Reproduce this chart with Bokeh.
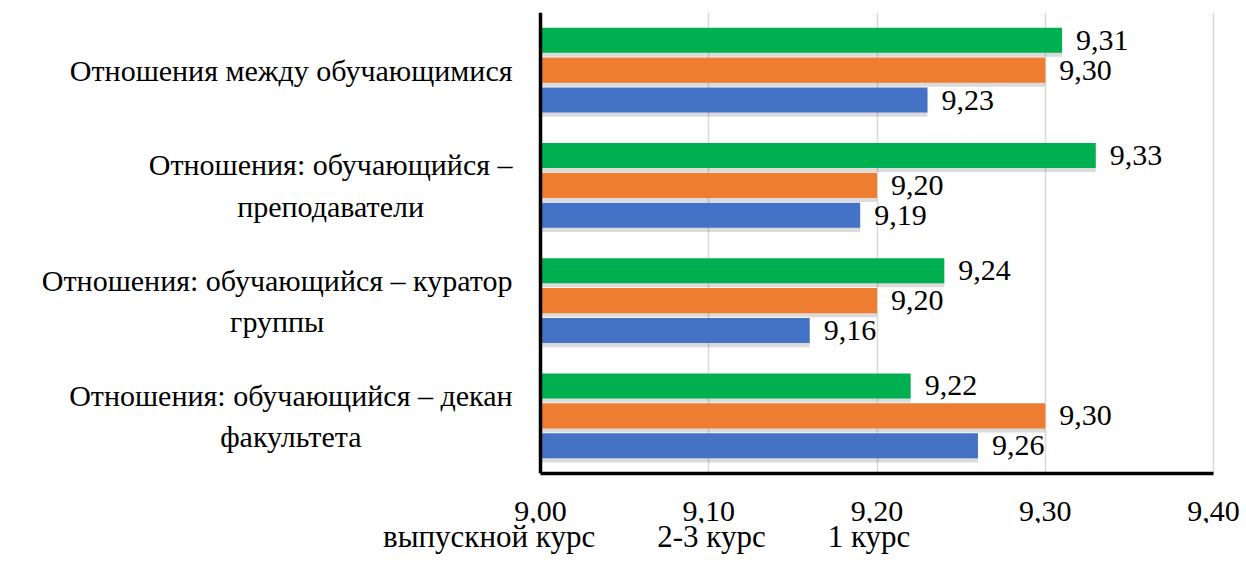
from bokeh.plotting import figure
from bokeh.layouts import column
from bokeh.models import (Range1d, FactorRange, ColumnDataSource, FixedTicker,
                          CustomJSTickFormatter, Span, Legend, LegendItem)
from bokeh.transform import dodge
from bokeh.core.properties import value
from bokeh.embed import file_html
from bokeh.resources import INLINE

# ---- data ----
categories = [
    "Отношения между обучающимися",
    "Отношения: обучающийся –\nпреподаватели",
    "Отношения: обучающийся – куратор\nгруппы",
    "Отношения: обучающийся – декан\nфакультета",
]
series_names = ["выпускной курс", "2-3 курс", "1 курс"]
vypusknoy_kurs = [9.31, 9.33, 9.24, 9.22]
kurs_2_3 = [9.30, 9.20, 9.20, 9.30]
kurs_1 = [9.23, 9.19, 9.16, 9.26]
x_ticks = [9.00, 9.10, 9.20, 9.30, 9.40]
x_start = 9.00

# ---- styles ----
colors = ["#00b050", "#ef7d31", "#4472c4"]
offsets = [0.26, 0.0, -0.26]
bar_h = 0.217
FONT = "'Liberation Serif', 'Times New Roman', serif"
FS = "30px"

def fmt(v):
    return f"{v:.2f}".replace(".", ",")

series = [vypusknoy_kurs, kurs_2_3, kurs_1]
fields = ["s0", "s1", "s2"]
data = {"cat": categories}
for f, vals in zip(fields, series):
    data[f] = vals
    data[f + "_lbl"] = [fmt(v) for v in vals]
src = ColumnDataSource(data)

p = figure(width=1246, height=534, frame_width=1246, frame_height=461,
           x_range=Range1d(8.67905, 9.41961),
           y_range=FactorRange(factors=list(reversed(categories)), range_padding=0),
           output_backend="svg", toolbar_location=None, y_axis_location=None,
           min_border_left=0, min_border_right=0, min_border_top=12,
           min_border_bottom=0)
p.outline_line_color = None
p.background_fill_color = "white"

# grid
p.ygrid.visible = False
p.xgrid.ticker = FixedTicker(ticks=x_ticks[1:])
p.xgrid.grid_line_color = "#d9d9d9"
p.xgrid.grid_line_width = 1.5

# x axis
p.xaxis.ticker = FixedTicker(ticks=x_ticks)
p.xaxis.formatter = CustomJSTickFormatter(code="return tick.toFixed(2).replace('.', ',')")
p.xaxis.bounds = (x_ticks[0], x_ticks[-1])
p.xaxis.axis_line_color = "black"
p.xaxis.axis_line_width = 3.5
p.xaxis.major_tick_line_color = None
p.xaxis.minor_tick_line_color = None
p.xaxis.major_tick_out = 0
p.xaxis.major_tick_in = 0
p.xaxis.major_label_standoff = 28
p.xaxis.major_label_text_font = FONT
p.xaxis.major_label_text_font_size = FS
p.xaxis.major_label_text_color = "black"

# left axis line
p.add_layout(Span(location=x_start, dimension="height", line_color="black", line_width=3.5))

for k, f in enumerate(fields):
    # soft shadow
    p.hbar(y=dodge("cat", offsets[k] - 0.035, range=p.y_range), left=x_start, right=f,
           height=bar_h, source=src, fill_color="black", fill_alpha=0.14, line_color=None)
    p.hbar(y=dodge("cat", offsets[k], range=p.y_range), left=x_start, right=f,
           height=bar_h, source=src, fill_color=colors[k], line_color=None)
    p.text(x=f, y=dodge("cat", offsets[k], range=p.y_range), text=f + "_lbl",
           source=src, x_offset=14, text_align="left", text_baseline="middle",
           text_font=value(FONT), text_font_size=FS, text_color="black")

# category labels
p.text(x=x_start, y="cat", text="cat", source=src, x_offset=-28,
       anchor="center_right", text_align="center", text_baseline="middle",
       text_line_height=1.25,
       text_font=value(FONT), text_font_size=FS, text_color="black")

# ---- legend strip below the chart ----
lg = figure(width=1246, height=32, x_range=Range1d(0, 1), y_range=Range1d(0, 1),
            output_backend="svg", toolbar_location=None,
            x_axis_location=None, y_axis_location=None,
            min_border_left=0, min_border_right=0, min_border_top=0, min_border_bottom=0)
lg.outline_line_color = None
lg.xgrid.visible = False
lg.ygrid.visible = False

legend_renderers = []
for k, name in enumerate(series_names):
    r = lg.rect(x="x", y="y", width=0.01, height=0.5,
                source=ColumnDataSource(dict(x=[], y=[])),
                fill_color=colors[k], line_color=None)
    legend_renderers.append(r)

legend = Legend(items=[LegendItem(label=n, renderers=[r]) for n, r in zip(series_names, legend_renderers)],
                orientation="horizontal", location=(359, 0),
                glyph_width=17, glyph_height=17, label_standoff=7, spacing=38,
                padding=0, margin=0, border_line_color=None, background_fill_alpha=0,
                label_text_font=FONT, label_text_font_size="31px", label_text_color="black")
lg.add_layout(legend)

layout = column(p, lg, spacing=0)
open("out.html", "w").write(file_html(layout, INLINE))
